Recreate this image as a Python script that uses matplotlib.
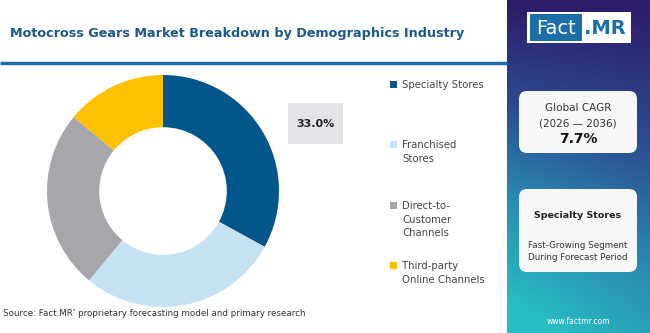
import numpy as np
import matplotlib.pyplot as plt
from matplotlib.patches import FancyBboxPatch, Rectangle
from matplotlib.colors import LinearSegmentedColormap

W, H = 650, 333

segments = ['Specialty Stores', 'Franchised\nStores', 'Direct-to-\nCustomer\nChannels', 'Third-party\nOnline Channels']
shares = [33.0, 28.0, 25.0, 14.0]
colors = ['#03568c', '#c6e3f4', '#a7a6ab', '#fcc200']

title = 'Motocross Gears Market Breakdown by Demographics Industry'
highlight_label = '33.0%'
cagr_period = '(2026 \u2014 2036)'
cagr_value = '7.7%'
top_segment = 'Specialty Stores'
source = "Source: Fact.MR' proprietary forecasting model and primary research"

fig = plt.figure(figsize=(W / 100, H / 100), dpi=100)
fig.patch.set_facecolor('white')

# gradient side panel
px0 = 507
gax = fig.add_axes([px0 / W, 0, (W - px0) / W, 1])
gax.axis('off')
yy, xx = np.mgrid[0:1:200j, 0:1:60j]
t = np.clip(0.8 * yy + 0.3 * (1 - xx) * yy, 0, 1)
cmap = LinearSegmentedColormap.from_list('panel', ['#2e1a6a', '#2b4a90', '#2a8db2', '#27bec3'])
gax.imshow(t, cmap=cmap, aspect='auto', extent=[0, 1, 1, 0], origin='upper')

# donut
cx, cy, r = 163, 191, 116
pax = fig.add_axes([(cx - r) / W, (H - cy - r) / H, 2 * r / W, 2 * r / H])
pax.pie(shares, colors=colors, startangle=90, counterclock=False,
        wedgeprops=dict(width=0.45, linewidth=0))
pax.set_xlim(-1, 1)
pax.set_ylim(-1, 1)
pax.set_aspect('auto')

# overlay in pixel coordinates
ax = fig.add_axes([0, 0, 1, 1], zorder=5)
ax.set_xlim(0, W)
ax.set_ylim(H, 0)
ax.axis('off')
ax.patch.set_alpha(0)

ax.text(10, 34, title, fontsize=9.2, fontweight='bold', color='#1a5a8f', va='center', ha='left')
ax.plot([0, px0], [63, 63], color='#1f6ca6', lw=2.5, solid_capstyle='butt')

# highlighted value box
ax.add_patch(Rectangle((288, 103), 55, 41, facecolor='#e4e4e8', edgecolor='none'))
ax.text(315.5, 124, highlight_label, fontsize=8, fontweight='bold', color='#222222', ha='center', va='center')

# legend
leg_y = [85, 145, 206, 266]
for lab, col, y in zip(segments, colors, leg_y):
    ax.add_patch(Rectangle((390, y - 4), 7, 7, facecolor=col, edgecolor='none'))
    ax.text(402, y - 5, lab, fontsize=7.3, color='#444444', ha='left', va='top', linespacing=1.45)

ax.text(3, 314, source, fontsize=6.3, color='#333333', ha='left', va='center')

# logo
ax.add_patch(Rectangle((527, 12), 104, 31, facecolor='white', edgecolor='none'))
ax.add_patch(Rectangle((530, 14), 52, 27, facecolor='#1a6fa8', edgecolor='none'))
ax.text(556, 28, 'Fact', fontsize=14, color='white', ha='center', va='center')
ax.text(605, 28, '.MR', fontsize=14, fontweight='bold', color='#1a6fae', ha='center', va='center')

# CAGR box
ax.add_patch(FancyBboxPatch((519, 91), 118, 62, boxstyle='round,pad=0,rounding_size=8',
                            facecolor='#f7f7f9', edgecolor='none'))
ax.text(578, 108, 'Global CAGR', fontsize=7.5, color='#333333', ha='center', va='center')
ax.text(578, 123, cagr_period, fontsize=7.5, color='#333333', ha='center', va='center')
ax.text(578, 139, cagr_value, fontsize=10, fontweight='bold', color='#111111', ha='center', va='center')

# segment box
ax.add_patch(FancyBboxPatch((519, 189), 118, 83, boxstyle='round,pad=0,rounding_size=8',
                            facecolor='#f7f7f9', edgecolor='none'))
ax.text(578, 215, top_segment, fontsize=6.8, fontweight='bold', color='#222222', ha='center', va='center')
ax.text(578, 246, 'Fast-Growing Segment', fontsize=6.3, color='#333333', ha='center', va='center')
ax.text(578, 257, 'During Forecast Period', fontsize=6.3, color='#333333', ha='center', va='center')

ax.text(578, 322, 'www.factmr.com', fontsize=5.5, color='white', ha='center', va='center')

fig.savefig('out.png', dpi=100)
